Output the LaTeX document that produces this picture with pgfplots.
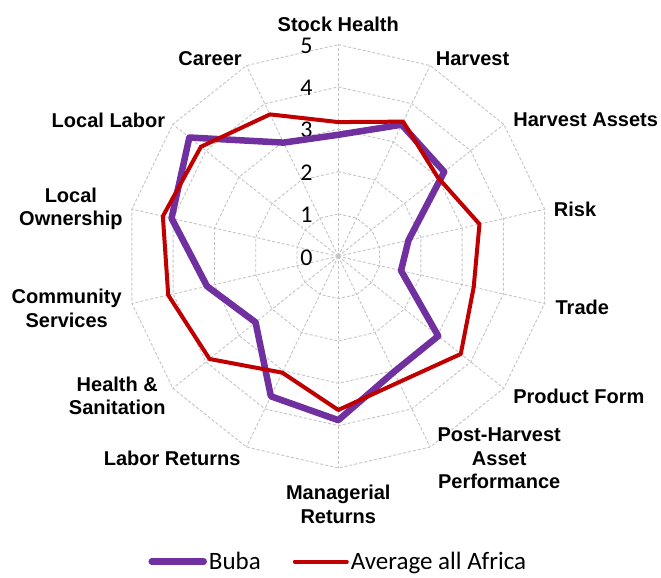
\documentclass[border=0pt]{standalone}
\usepackage{fontspec}
\setmainfont{Liberation Sans}
\newfontfamily\calibri{Carlito}
\usepackage{pgfplots}
\pgfplotsset{compat=1.18}
\usepgfplotslibrary{polar}
\definecolor{bubapurple}{HTML}{7030A0}
\definecolor{afred}{HTML}{C00000}
\definecolor{gridgray}{HTML}{C4C4C4}
\tikzset{gridline/.style={gridgray, line width=0.9pt, dash pattern=on 3pt off 2pt}}
\newcommand{\lab}[3]{\node[font=\bfseries\fontsize{20}{23.5}\selectfont, align=center, inner sep=0pt] at ([xshift=#1pt,yshift=#2pt]axis cs:0,0) {#3};}
\newcommand{\tlab}[1]{\node[font=\calibri\fontsize{24}{26}\selectfont, anchor=east, inner sep=0pt] at ([xshift=-25.5pt,yshift=-1pt]axis cs:90,#1) {#1};}
\begin{document}
\begin{tikzpicture}
\begin{polaraxis}[
  scale only axis,
  width=423.4pt, height=423.4pt,
  xmin=0, xmax=360, ymin=0, ymax=5,
  axis line style={draw=none},
  xtick=\empty, ytick=\empty,
  clip=false,
  legend style={at={(0.5,-0.221)}, anchor=center, draw=none, fill=none,
    legend columns=2, font=\calibri\fontsize{25}{28}\selectfont,
    /tikz/every even column/.append style={column sep=30pt},
    inner sep=0pt, row sep=0pt},
  legend cell align=left,
  legend image code/.code={\draw[#1, line cap=round] (0pt,0pt) -- (52pt,0pt);},
]
% polygonal grid rings
\pgfplotsinvokeforeach{1,2,3,4,5}{
\addplot[gridline, forget plot] coordinates {(90,#1) (64.2857,#1) (38.5714,#1) (12.8571,#1) (347.1429,#1) (321.4286,#1) (295.7143,#1) (270,#1) (244.2857,#1) (218.5714,#1) (192.8571,#1) (167.1429,#1) (141.4286,#1) (115.7143,#1) (90,#1)};
}
% spokes
\pgfplotsinvokeforeach{90,64.2857,38.5714,12.8571,347.1429,321.4286,295.7143,270,244.2857,218.5714,192.8571,167.1429,141.4286,115.7143}{
\addplot[gridline, forget plot] coordinates {(#1,0) (#1,5)};
}
% radial tick labels
\tlab{0}\tlab{1}\tlab{2}\tlab{3}\tlab{4}\tlab{5}
% category labels
\lab{0}{232.1}{Stock Health}
\lab{134.3}{197.9}{Harvest}
\lab{247.4}{136.3}{Harvest Assets}
\lab{236.8}{47}{Risk}
\lab{244}{-51.1}{Trade}
\lab{240.6}{-140.4}{Product Form}
\lab{160.9}{-202.1}{Post-Harvest\\Asset\\Performance}
\lab{0}{-248.2}{Managerial\\Returns}
\lab{-166.1}{-201.7}{Labor Returns}
\lab{-221}{-139.7}{Health \&\\Sanitation}
\lab{-271.6}{-51.9}{Community\\Services}
\lab{-267.4}{47.7}{Local\\Ownership}
\lab{-229.9}{136.3}{Local Labor}
\lab{-128.2}{197.9}{Career}
% data
\addplot[bubapurple, line width=6.5pt, line join=round] coordinates {
(90,2.87) (64.2857,3.45) (38.5714,3.2) (12.8571,1.7) (347.1429,1.52) (321.4286,3.02) (295.7143,3.03) (270,3.87) (244.2857,3.67) (218.5714,2.5) (192.8571,3.18) (167.1429,4.04) (141.4286,4.5) (115.7143,2.98) (90,2.87)};
\addlegendentry{Buba}
\addplot[afred, line width=4pt, line join=round] coordinates {
(90,3.17) (64.2857,3.53) (38.5714,3.0) (12.8571,3.42) (347.1429,3.28) (321.4286,3.7) (295.7143,3.3) (270,3.63) (244.2857,3.05) (218.5714,3.89) (192.8571,4.12) (167.1429,4.25) (141.4286,4.15) (115.7143,3.72) (90,3.17)};
\addlegendentry{Average all Africa}
\path ([xshift=-338.3pt,yshift=-321.7pt]axis cs:0,0) rectangle ([xshift=322.7pt,yshift=256.3pt]axis cs:0,0);
\end{polaraxis}
\end{tikzpicture}
\end{document}
